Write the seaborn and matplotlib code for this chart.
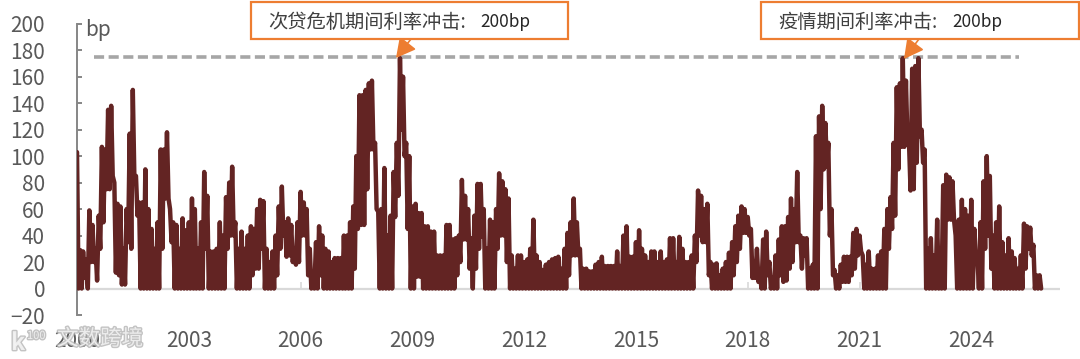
import pandas as pd
import matplotlib.pyplot as plt
import matplotlib.dates as mdates
import matplotlib.patheffects as pe
from matplotlib.patches import Rectangle
import seaborn as sns

sns.set_theme(style="white")
plt.rcParams['font.family'] = ['Noto Sans CJK SC', 'DejaVu Sans']

# top and bottom of the trace in each month (bp), Jan 2000 to Nov 2025
month_high = [
    103, 29, 28, 22, 59, 48, 30, 55, 107, 105, 135, 138,
    80, 64, 62, 30, 60, 117, 150, 85, 65, 65, 90, 60,
    45, 30, 50, 105, 105, 118, 60, 50, 48, 30, 53, 44,
    50, 68, 60, 30, 50, 88, 70, 28, 28, 30, 50, 40,
    69, 80, 92, 50, 30, 43, 30, 40, 47, 45, 60, 67,
    66, 30, 20, 28, 40, 62, 77, 50, 53, 48, 30, 50,
    73, 65, 60, 30, 10, 35, 47, 40, 30, 28, 20, 23,
    23, 23, 40, 40, 50, 62, 100, 146, 146, 150, 155, 157,
    110, 58, 60, 91, 40, 55, 88, 110, 174, 160, 110, 100,
    62, 64, 57, 57, 47, 47, 43, 43, 25, 25, 25, 48,
    48, 37, 38, 40, 82, 70, 60, 38, 55, 79, 79, 60,
    30, 52, 50, 60, 87, 81, 75, 68, 25, 15, 25, 25,
    20, 22, 30, 52, 25, 20, 14, 18, 20, 22, 23, 24,
    15, 30, 42, 50, 68, 50, 30, 15, 15, 13, 13, 18,
    20, 24, 17, 17, 17, 17, 28, 17, 40, 47, 24, 24,
    35, 44, 30, 25, 20, 28, 28, 20, 28, 20, 22, 38,
    38, 20, 39, 30, 20, 20, 25, 40, 74, 70, 60, 64,
    20, 18, 19, 10, 15, 20, 27, 35, 47, 55, 62, 60,
    54, 45, 20, 30, 10, 37, 43, 20, 8, 25, 37, 47,
    47, 54, 68, 60, 88, 40, 38, 38, 15, 18, 115, 130,
    138, 125, 110, 60, 14, 10, 18, 24, 24, 24, 42, 45,
    40, 25, 18, 28, 15, 15, 25, 28, 45, 60, 69, 110,
    152, 155, 174, 157, 110, 166, 168, 174, 120, 105, 30, 38,
    25, 52, 30, 78, 86, 84, 81, 40, 52, 67, 60, 55,
    67, 45, 25, 50, 81, 100, 85, 40, 50, 62, 35, 25,
    38, 28, 23, 15, 25, 49, 47, 46, 33, 10, 10,
]
month_low = [
    0, 0, 8, 0, 20, 20, 6, 30, 50, 75, 75, 85,
    12, 10, 3, 3, 35, 30, 85, 55, 0, 0, 0, 0,
    0, 0, 0, 30, 68, 68, 35, 0, 0, 0, 0, 0,
    0, 0, 0, 0, 0, 30, 0, 0, 0, 0, 0, 0,
    30, 40, 40, 0, 0, 0, 0, 0, 10, 15, 15, 30,
    0, 0, 0, 0, 10, 30, 40, 24, 25, 20, 18, 20,
    40, 40, 10, 0, 0, 0, 10, 0, 0, 0, 0, 0,
    0, 0, 0, 0, 0, 15, 45, 48, 48, 75, 105, 105,
    60, 0, 0, 0, 0, 0, 54, 70, 120, 100, 45, 0,
    0, 9, 9, 0, 0, 0, 0, 0, 0, 0, 0, 0,
    0, 0, 10, 20, 37, 37, 15, 0, 15, 30, 39, 0,
    0, 0, 0, 30, 40, 40, 20, 0, 0, 0, 0, 0,
    0, 0, 0, 0, 0, 0, 0, 0, 0, 0, 0, 0,
    0, 0, 10, 25, 25, 25, 0, 0, 0, 0, 0, 0,
    0, 0, 0, 0, 0, 0, 0, 0, 0, 0, 0, 0,
    0, 0, 0, 0, 0, 0, 0, 0, 0, 0, 0, 0,
    0, 0, 0, 0, 0, 0, 0, 20, 40, 35, 35, 10,
    0, 0, 0, 0, 0, 0, 0, 10, 20, 30, 42, 42,
    40, 8, 8, 5, 0, 0, 10, 0, 0, 0, 10, 5,
    6, 15, 20, 35, 35, 15, 25, 0, 0, 0, 0, 60,
    90, 92, 40, 10, 0, 0, 5, 5, 5, 10, 15, 25,
    28, 0, 0, 0, 0, 0, 0, 0, 0, 30, 45, 55,
    90, 107, 107, 110, 74, 75, 95, 115, 95, 0, 0, 0,
    0, 0, 0, 0, 52, 52, 52, 0, 0, 0, 0, 0,
    0, 20, 0, 0, 30, 40, 15, 0, 0, 0, 0, 0,
    0, 0, 0, 0, 0, 15, 30, 25, 0, 0, 0,
]
shock_level = [175, 175]
shock_span = ["2000-06-15", "2025-04-15"]
year_ticks = [2000, 2003, 2006, 2009, 2012, 2015, 2018, 2021, 2024]
y_ticks = [-20, 0, 20, 40, 60, 80, 100, 120, 140, 160, 180, 200]
box_titles = ["次贷危机期间利率冲击:", "疫情期间利率冲击:"]
box_value = "200bp"
watermark = "文数跨境"

W, H = 1080, 359
LINE = "#632423"
ORANGE = "#ed7d31"
GREY = "#595959"


def fx(x):
    return x / W


def fy(y):
    return 1 - y / H


months = pd.date_range("2000-01-01", periods=len(month_high), freq="MS")
df = pd.concat([
    pd.DataFrame({"date": months, "bp": month_high}),
    pd.DataFrame({"date": months + pd.Timedelta(days=15), "bp": month_low}),
]).sort_values("date")
tick_dates = pd.to_datetime([f"{y}-01-01" for y in year_ticks])

fig = plt.figure(figsize=(W / 100, H / 100), dpi=100)
ax = fig.add_axes([fx(77), fy(315), fx(1060 - 77), fy(23.7) - fy(315)])

ax.axhline(0, color="#d9d9d9", lw=1.6, zorder=1)
ax.vlines(tick_dates[1:], 0, 5, color="#d9d9d9", lw=1.2, zorder=1)
ax.plot(pd.to_datetime(shock_span), shock_level, color="#a6a6a6", lw=2.6,
        dashes=(2.8, 1.25), zorder=2)
sns.lineplot(data=df, x="date", y="bp", ax=ax, color=LINE, lw=3.2, zorder=3,
             errorbar=None, solid_joinstyle="round", solid_capstyle="round")

ax.set_ylim(-20, 200)
ax.set_xlim(pd.Timestamp("2000-01-01"), pd.Timestamp("2026-05-20"))
ax.set_xlabel("")
ax.set_ylabel("")
ax.set_xticks(tick_dates)
ax.xaxis.set_major_formatter(mdates.DateFormatter("%Y"))
ax.set_yticks(y_ticks)
ax.set_yticklabels([str(v).replace("-", "−") for v in y_ticks])
ax.tick_params(axis="x", length=0, pad=11, labelsize=15, labelcolor=GREY)
ax.tick_params(axis="y", direction="in", length=3.6, width=1.4, color="#868686",
               left=True, pad=23, labelsize=15, labelcolor=GREY)
for side in ["top", "right", "bottom"]:
    ax.spines[side].set_visible(False)
ax.spines["left"].set_color("#868686")
ax.spines["left"].set_linewidth(1.4)
ax.patch.set_alpha(0)

fig.text(fx(85), fy(30), "bp", fontsize=15, color=GREY, ha="left", va="center")

# annotation boxes
boxes = [(251, 568), (761, 1079)]
text_left = [268, 778]
value_left = [480, 952]
arrows = [((411, 39), (396, 58)), ((919, 39), (904, 59))]
for i in range(2):
    x0, x1 = boxes[i]
    fig.add_artist(Rectangle((fx(x0), fy(39)), fx(x1 - x0), fy(2) - fy(39),
                             transform=fig.transFigure, facecolor="white",
                             edgecolor=ORANGE, lw=1.6, zorder=5))
    fig.text(fx(text_left[i]), fy(22), box_titles[i], fontsize=13.9, color="#404040",
             ha="left", va="center", zorder=6)
    fig.text(fx(value_left[i]), fy(22), box_value, fontsize=12.4, color="#262626",
             ha="left", va="center", zorder=6)
    tail, tip = arrows[i]
    ax.annotate("", xy=(fx(tip[0]), fy(tip[1])), xytext=(fx(tail[0]), fy(tail[1])),
                xycoords="figure fraction", textcoords="figure fraction",
                arrowprops=dict(arrowstyle="-|>,head_length=0.75,head_width=0.4", color=ORANGE,
                                lw=1.2, mutation_scale=16, shrinkA=0, shrinkB=0),
                zorder=6)

# watermark over the first year label
halo = [pe.withStroke(linewidth=2, foreground="#b5b5b5", alpha=0.8)]
fig.text(fx(57), fy(339), watermark, fontsize=15.5, color="#f4f4f4", alpha=0.85,
         ha="left", va="center", zorder=7, path_effects=halo)
fig.text(fx(11), fy(343), "k", fontsize=17, fontweight="bold", color="#f4f4f4", alpha=0.9,
         ha="left", va="center", zorder=7, path_effects=halo)
fig.text(fx(27), fy(336), "100", fontsize=8, color="#f4f4f4", alpha=0.9,
         ha="left", va="center", zorder=7, path_effects=halo)

fig.savefig("out.png", dpi=100)
